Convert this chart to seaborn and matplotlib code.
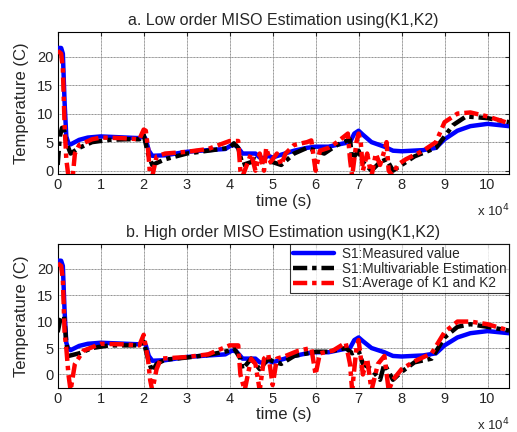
import matplotlib
matplotlib.use("Agg")
import matplotlib.pyplot as plt
import seaborn as sns
import numpy as np

# ---------------- data (time in units of 1e4 s) ----------------
t_meas = [0, 0.08, 0.12, 0.16, 0.2, 0.25, 0.3, 0.4, 0.5, 0.7, 1.0, 1.3, 1.6, 1.9, 2.0,
          2.05, 2.12, 2.2, 2.5, 3.0, 3.5, 3.9, 4.05, 4.15, 4.25, 4.3, 4.6, 4.7, 4.8, 4.9,
          5.0, 5.2, 5.5, 5.8, 6.0, 6.3, 6.6, 6.8, 6.9, 7.0, 7.1, 7.3, 7.6, 7.8, 8.0,
          8.5, 8.8, 9.0, 9.3, 9.6, 10.0, 10.5]
meas = [21.5, 21.5, 20.5, 12, 6, 4.8, 4.6, 5.0, 5.4, 5.8, 6.0, 5.9, 5.8, 5.7, 6.1,
        5.5, 3.5, 2.6, 2.7, 3.3, 3.6, 3.8, 4.5, 4.4, 3.5, 3.0, 3.0, 2.3, 2.2, 2.6,
        2.3, 2.8, 3.5, 4.0, 4.2, 4.2, 4.7, 5.0, 6.5, 7.0, 6.3, 5.0, 4.2, 3.5, 3.4,
        3.6, 4.0, 5.5, 7.0, 7.8, 8.2, 7.8]

t_low_mv = [0, 0.05, 0.1, 0.15, 0.2, 0.3, 0.5, 0.8, 1.2, 1.6, 1.9, 2.0, 2.1, 2.2, 2.5,
            3.0, 3.5, 4.0, 4.1, 4.2, 4.3, 4.5, 4.6, 4.8, 5.0, 5.2, 5.5, 5.8, 6.0, 6.2,
            6.5, 6.8, 6.85, 6.95, 7.0, 7.1, 7.3, 7.5, 7.65, 7.8, 8.0, 8.3, 8.8, 9.0, 9.2,
            9.5, 10.0, 10.5]
low_mv = [1, 6, 7.5, 7, 5, 3, 4, 5, 5.4, 5.5, 5.5, 6.3, 3, 1, 2,
          3, 3.5, 4, 4.8, 4, 1, 1.5, 2, 1.5, 1.5, 1, 3, 4, 3.5, 3,
          4.5, 5.5, 2, 3, 3.5, 1.5, 0, 1.5, 2, 0, 1, 2.5, 4, 6, 8,
          9.5, 9.2, 8.5]

t_low_av = [0, 0.08, 0.12, 0.16, 0.2, 0.25, 0.35, 0.4, 0.5, 0.8, 1.0, 1.5, 1.9, 2.0, 2.05,
            2.1, 2.15, 2.2, 2.3, 2.5, 3.0, 3.5, 4.0, 4.2, 4.25, 4.3, 4.4, 4.5, 4.6, 4.7,
            4.8, 4.85, 4.95, 5.1, 5.2, 5.3, 5.5, 5.8, 5.9, 6.0, 6.1, 6.3, 6.5, 6.75, 6.8,
            6.85, 6.95, 7.0, 7.05, 7.1, 7.2, 7.3, 7.4, 7.5, 7.6, 7.65, 7.7, 7.8, 7.9, 8.1,
            8.5, 8.8, 9.0, 9.3, 9.6, 10.0, 10.5]
low_av = [21, 20.5, 18, 8, 2, -1, -1, 3, 4.5, 5.5, 5.8, 5.7, 5.5, 7.2, 7,
          4, -1, -1, 2.5, 3, 3.3, 3.8, 5.2, 5.2, 0, -1, 1, 3, 0, 3,
          0, 4, 1.5, 3, 1, 3, 4.5, 5, 5.3, 0, 3.5, 4, 5, 6.5, 2,
          -1, 5, 6.5, 5, 0, 3, -1, 3, 1, 3.5, 5, 0, -1, 1, 2,
          3.5, 5, 8.5, 10, 10.2, 9.5, 8.3]

t_high_mv = [0, 0.05, 0.1, 0.15, 0.2, 0.25, 0.5, 0.8, 1.2, 1.6, 1.9, 2.0, 2.1, 2.2, 2.3,
             2.5, 3.0, 3.5, 4.0, 4.1, 4.25, 4.3, 4.5, 4.7, 4.9, 5.0, 5.2, 5.5, 6.0, 6.3,
             6.7, 6.85, 7.0, 7.1, 7.3, 7.5, 7.6, 7.8, 8.0, 8.3, 8.7, 9.0, 9.3, 9.6, 10.0,
             10.5]
high_mv = [8, 10, 11, 11, 6, 3.5, 4, 5, 5.5, 5.5, 5.5, 6.2, 3, 0.5, 2,
           2.8, 3.2, 3.7, 4.5, 5, 3, 1, 3, 1, 3, 2.5, 2, 3.5, 4.3, 4.3,
           5, 4, 4.5, 2, 1, -1, 2, -1, 0.5, 2.3, 3, 7, 9, 9.5, 9,
           8.3]

t_high_av = [0, 0.08, 0.12, 0.16, 0.2, 0.25, 0.3, 0.4, 0.6, 1.0, 1.5, 1.9, 2.0, 2.1, 2.15,
             2.2, 2.3, 2.4, 3.0, 3.5, 4.0, 4.2, 4.25, 4.35, 4.5, 4.6, 4.7, 4.8, 4.9, 5.0,
             5.1, 5.3, 5.6, 5.9, 6.0, 6.1, 6.4, 6.7, 6.8, 6.85, 6.95, 7.0, 7.1, 7.2, 7.3,
             7.45, 7.6, 7.7, 7.8, 8.0, 8.3, 8.7, 9.0, 9.3, 9.6, 10.0, 10.5]
high_av = [21, 20.5, 18, 8, 5, 0, -3, 2, 4.5, 5.8, 5.7, 5.5, 7.5, 3, -1,
           -3, 1, 3, 3.3, 3.8, 5.5, 5.5, 0, -3, 3, 2, -3, 3, 3.8, -2,
           3, 3.5, 4.5, 5, 0, 4, 4.5, 6, 2, -3, 5, 6.5, 0, 3, -3,
           2, 3.5, -3, -1, 1, 2.5, 4, 8, 10, 10, 9.5, 8.3]

x_ticks = [0, 1, 2, 3, 4, 5, 6, 7, 8, 9, 10]
x_tick_labels = ["0", "1", "2", "3", "4", "5", "6", "7", "8", "9", "10"]
y_ticks = [0, 5, 10, 15, 20]
titles = ["a. Low order MISO Estimation using(K1,K2)",
          "b. High order MISO Estimation using(K1,K2)"]
labels = ["S1:Measured value", "S1:Multivariable Estimation", "S1:Average of K1 and K2"]
SCALE = 1e4

# ---------------- style ----------------
sns.set_style("white")
plt.rcParams["font.family"] = ["Liberation Sans", "DejaVu Sans"]

fig = plt.figure(figsize=(5.17, 4.32), dpi=100)
ax1 = fig.add_axes([0.1116, 0.597, 0.873, 0.329])
ax2 = fig.add_axes([0.1116, 0.1025, 0.873, 0.332])

dd = (0, (3.2, 1.1, 1.0, 1.1))
panels = [
    (ax1, t_low_mv, low_mv, t_low_av, low_av, (-0.6, 24.3)),
    (ax2, t_high_mv, high_mv, t_high_av, high_av, (-2.5, 24.6)),
]

for i, (ax, tmv, ymv, tav, yav, ylim) in enumerate(panels):
    sns.lineplot(x=np.array(t_meas) * SCALE, y=meas, ax=ax, color="#0000ff",
                 lw=3.2, label=labels[0], zorder=3)
    sns.lineplot(x=np.array(tmv) * SCALE, y=ymv, ax=ax, color="black",
                 lw=3.2, linestyle=dd, label=labels[1], zorder=4)
    sns.lineplot(x=np.array(tav) * SCALE, y=yav, ax=ax, color="#ff0000",
                 lw=3.2, linestyle=dd, label=labels[2], zorder=5)
    ax.set_xlim(0, 10.5 * SCALE)
    ax.set_ylim(*ylim)
    ax.set_xticks([v * SCALE for v in x_ticks])
    ax.set_xticklabels(x_tick_labels)
    ax.set_yticks(y_ticks)
    ax.grid(True, color="#8c8c8c", lw=0.7, ls=(0, (1, 0.5)))
    ax.set_axisbelow(True)
    ax.tick_params(direction="in", length=3, width=0.8, labelsize=10.5,
                   top=True, right=True, pad=3)
    for s in ax.spines.values():
        s.set_color("black")
        s.set_linewidth(0.8)
    ax.set_title(titles[i], fontsize=11.5, pad=5)
    ax.set_xlabel("time (s)", fontsize=12, labelpad=1)
    ax.set_ylabel("Temperature (C)", fontsize=12, labelpad=6)
    ax.text(1.0, -0.2, r"x 10$^{4}$", transform=ax.transAxes, ha="right",
            va="top", fontsize=9.5)
    if i == 0:
        ax.get_legend().remove()
    else:
        leg = ax.legend(loc="upper right", borderaxespad=0, frameon=True,
                        fancybox=False, edgecolor="black", fontsize=9.8,
                        handlelength=3.0, handletextpad=0.6, borderpad=0.2,
                        labelspacing=0.05)
        leg.get_frame().set_linewidth(0.8)

fig.savefig("out.png", dpi=100)
